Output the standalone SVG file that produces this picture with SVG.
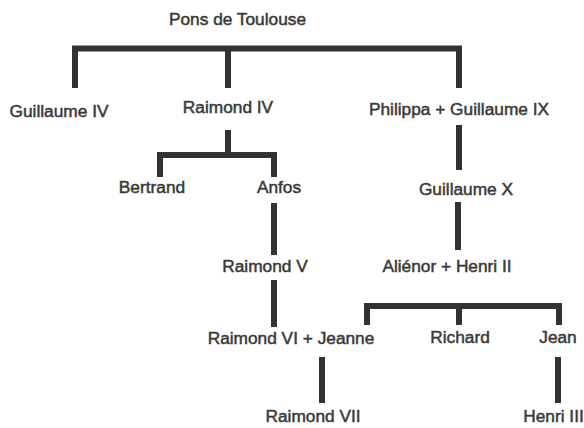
<svg xmlns="http://www.w3.org/2000/svg" width="584" height="428" viewBox="0 0 584 428">
<style>
.t{font-family:"Liberation Sans",Arial,sans-serif;font-size:17.3px;fill:#3a3a3a;stroke:#3a3a3a;stroke-width:0.5;text-anchor:middle}
.c{fill:none;stroke:#333;stroke-width:6;stroke-linejoin:miter;stroke-linecap:butt}
</style>
<rect width="584" height="428" fill="#fff"/>
<g id="connectors">
<path class="c" d="M75,88 V48.5 H459 V88"/>
<path class="c" d="M228,48.5 V88"/>
<path class="c" d="M228,130 V155"/>
<path class="c" d="M160,177 V155 H274 V177"/>
<path class="c" d="M274,203 V255"/>
<path class="c" d="M274,280 V327"/>
<path class="c" d="M459,125 V170"/>
<path class="c" d="M458,202 V250"/>
<path class="c" d="M367,325 V306 H559 V325"/>
<path class="c" d="M459,306 V325"/>
<path class="c" d="M322,357 V403"/>
<path class="c" d="M558,357 V403"/>
</g>
<g id="pons"><text class="t" x="237.5" y="25">Pons de Toulouse</text></g>
<g id="guillaume4"><text class="t" x="59" y="117">Guillaume IV</text></g>
<g id="raimond4"><text class="t" x="228" y="113">Raimond IV</text></g>
<g id="philippa"><text class="t" x="459" y="115">Philippa + Guillaume IX</text></g>
<g id="bertrand"><text class="t" x="152" y="193">Bertrand</text></g>
<g id="anfos"><text class="t" x="279" y="193">Anfos</text></g>
<g id="guillaume10"><text class="t" x="466" y="195">Guillaume X</text></g>
<g id="raimond5"><text class="t" x="265" y="272">Raimond V</text></g>
<g id="alienor"><text class="t" x="447" y="272">Aliénor + Henri II</text></g>
<g id="raimond6"><text class="t" x="291" y="344">Raimond VI + Jeanne</text></g>
<g id="richard"><text class="t" x="460" y="343">Richard</text></g>
<g id="jean"><text class="t" x="558" y="343">Jean</text></g>
<g id="raimond7"><text class="t" x="313" y="422">Raimond VII</text></g>
<g id="henri3"><text class="t" x="553.5" y="422">Henri III</text></g>
</svg>
